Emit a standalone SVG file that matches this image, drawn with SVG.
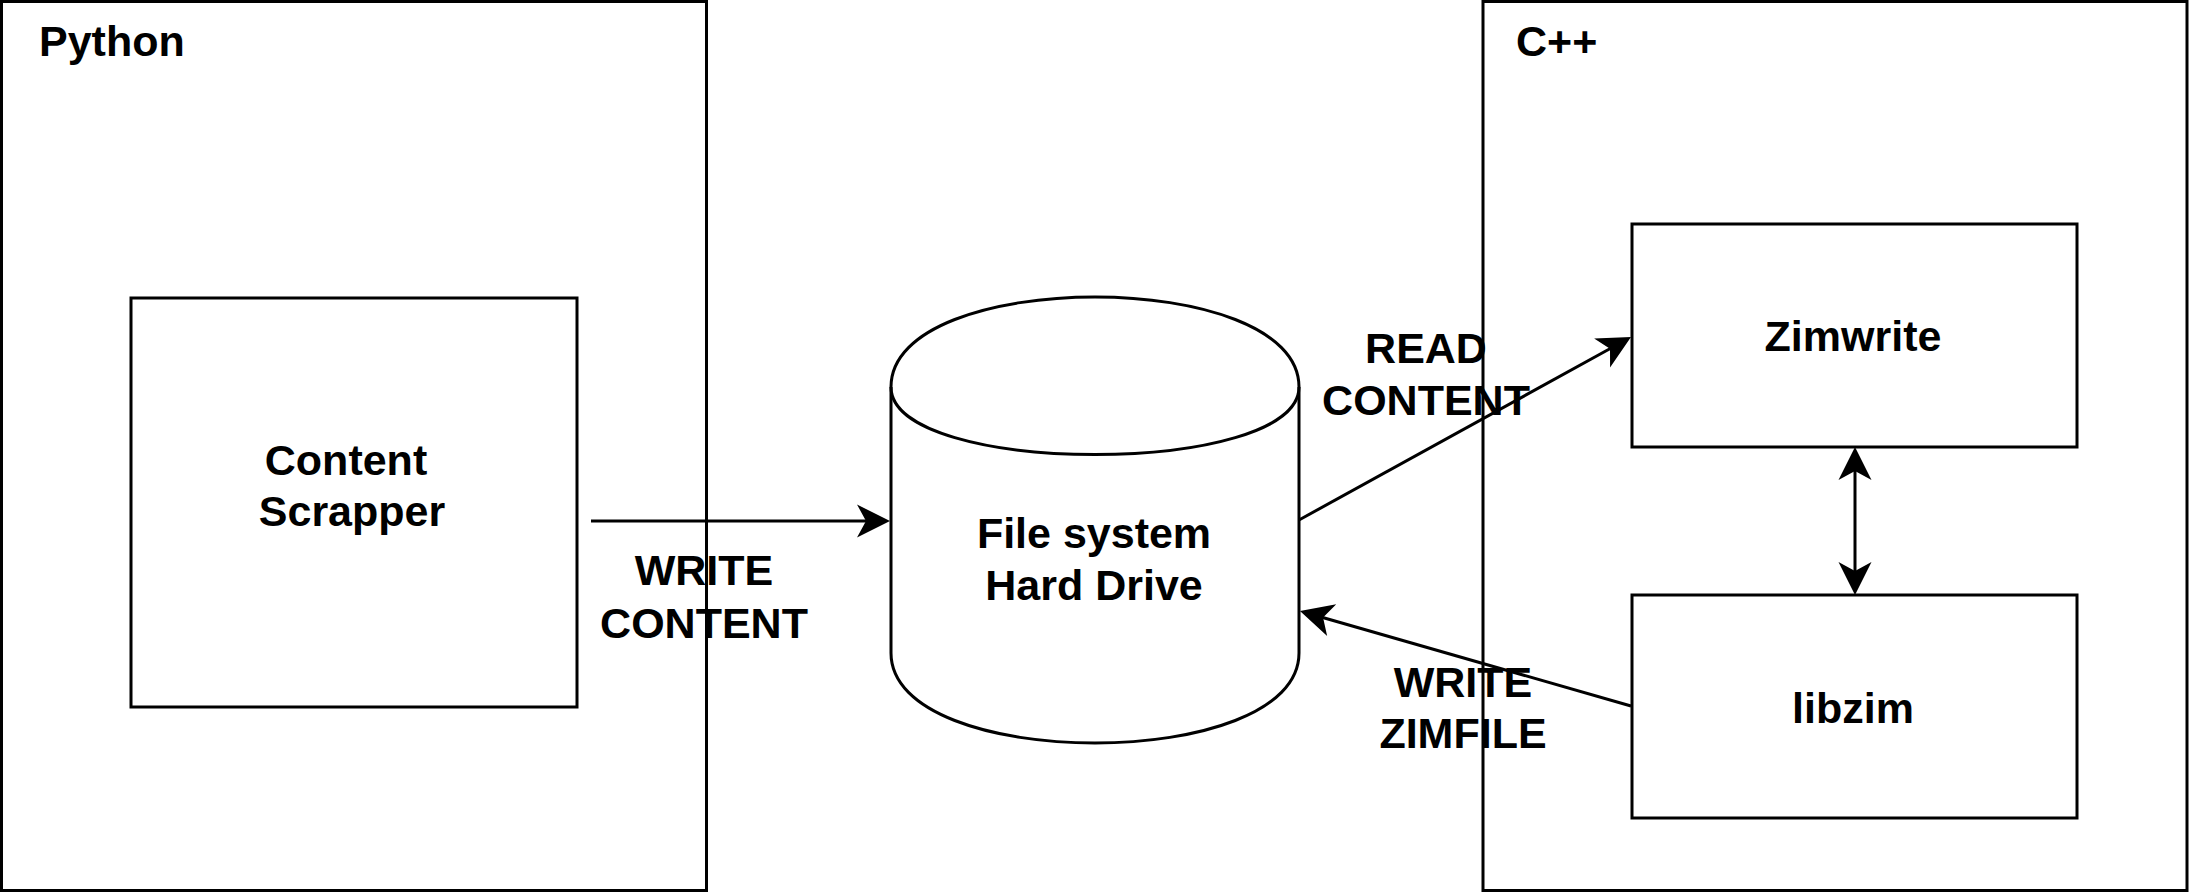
<svg xmlns="http://www.w3.org/2000/svg" width="2190" height="894" viewBox="0 0 2190 894">
<style>
.box{fill:#ffffff;stroke:#000000;stroke-width:3}
.edge{fill:none;stroke:#000000;stroke-width:3}
.t{font-family:"Liberation Sans",Arial,Helvetica,sans-serif;font-weight:bold;font-size:43px;fill:#000000}
.c{text-anchor:middle}
</style>
<defs>
<marker id="arr" viewBox="-34 -17 35 34" markerWidth="35" markerHeight="34" refX="-20" refY="0" markerUnits="userSpaceOnUse" orient="auto-start-reverse">
<path d="M0,0 L-33,-16.5 L-24,0 L-33,16.5 Z" fill="#000000"/>
</marker>
</defs>
<rect x="0" y="0" width="2190" height="894" fill="#ffffff"/>
<g id="python">
<rect class="box" x="1.5" y="1.5" width="705" height="889"/>
<text class="t" x="39" y="56">Python</text>
</g>
<g id="cpp">
<rect class="box" x="1483" y="1.5" width="704" height="889"/>
<text class="t" x="1516" y="56">C++</text>
</g>
<g id="content-scrapper">
<rect class="box" x="131" y="298" width="446" height="409"/>
<text class="t c" x="346" y="475">Content</text>
<text class="t c" x="352" y="526">Scrapper</text>
</g>
<g id="filesystem">
<path class="box" d="M891,387 C891,267 1299,267 1299,387 L1299,653 C1299,773 891,773 891,653 Z"/>
<path class="edge" d="M891,387 C891,477 1299,477 1299,387"/>
<text class="t c" x="1094" y="548">File system</text>
<text class="t c" x="1094" y="600">Hard Drive</text>
</g>
<g id="zimwrite">
<rect class="box" x="1632" y="224" width="445" height="223"/>
<text class="t c" x="1853" y="351">Zimwrite</text>
</g>
<g id="libzim">
<rect class="box" x="1632" y="595" width="445" height="223"/>
<text class="t c" x="1853" y="723">libzim</text>
</g>
<g id="connectors">
<line class="edge" x1="591" y1="521" x2="870" y2="521" marker-end="url(#arr)"/>
<line class="edge" x1="1299" y1="520" x2="1613.5" y2="346.7" marker-end="url(#arr)"/>
<line class="edge" x1="1631" y1="706" x2="1319.2" y2="616.5" marker-end="url(#arr)"/>
<line class="edge" x1="1855" y1="467" x2="1855" y2="575" marker-start="url(#arr)" marker-end="url(#arr)"/>
</g>
<g id="labels">
<text class="t c" x="704" y="585">WRITE</text>
<text class="t c" x="704" y="638">CONTENT</text>
<text class="t c" x="1426" y="363">READ</text>
<text class="t c" x="1426" y="415">CONTENT</text>
<text class="t c" x="1463" y="697">WRITE</text>
<text class="t c" x="1463" y="748">ZIMFILE</text>
</g>
</svg>
